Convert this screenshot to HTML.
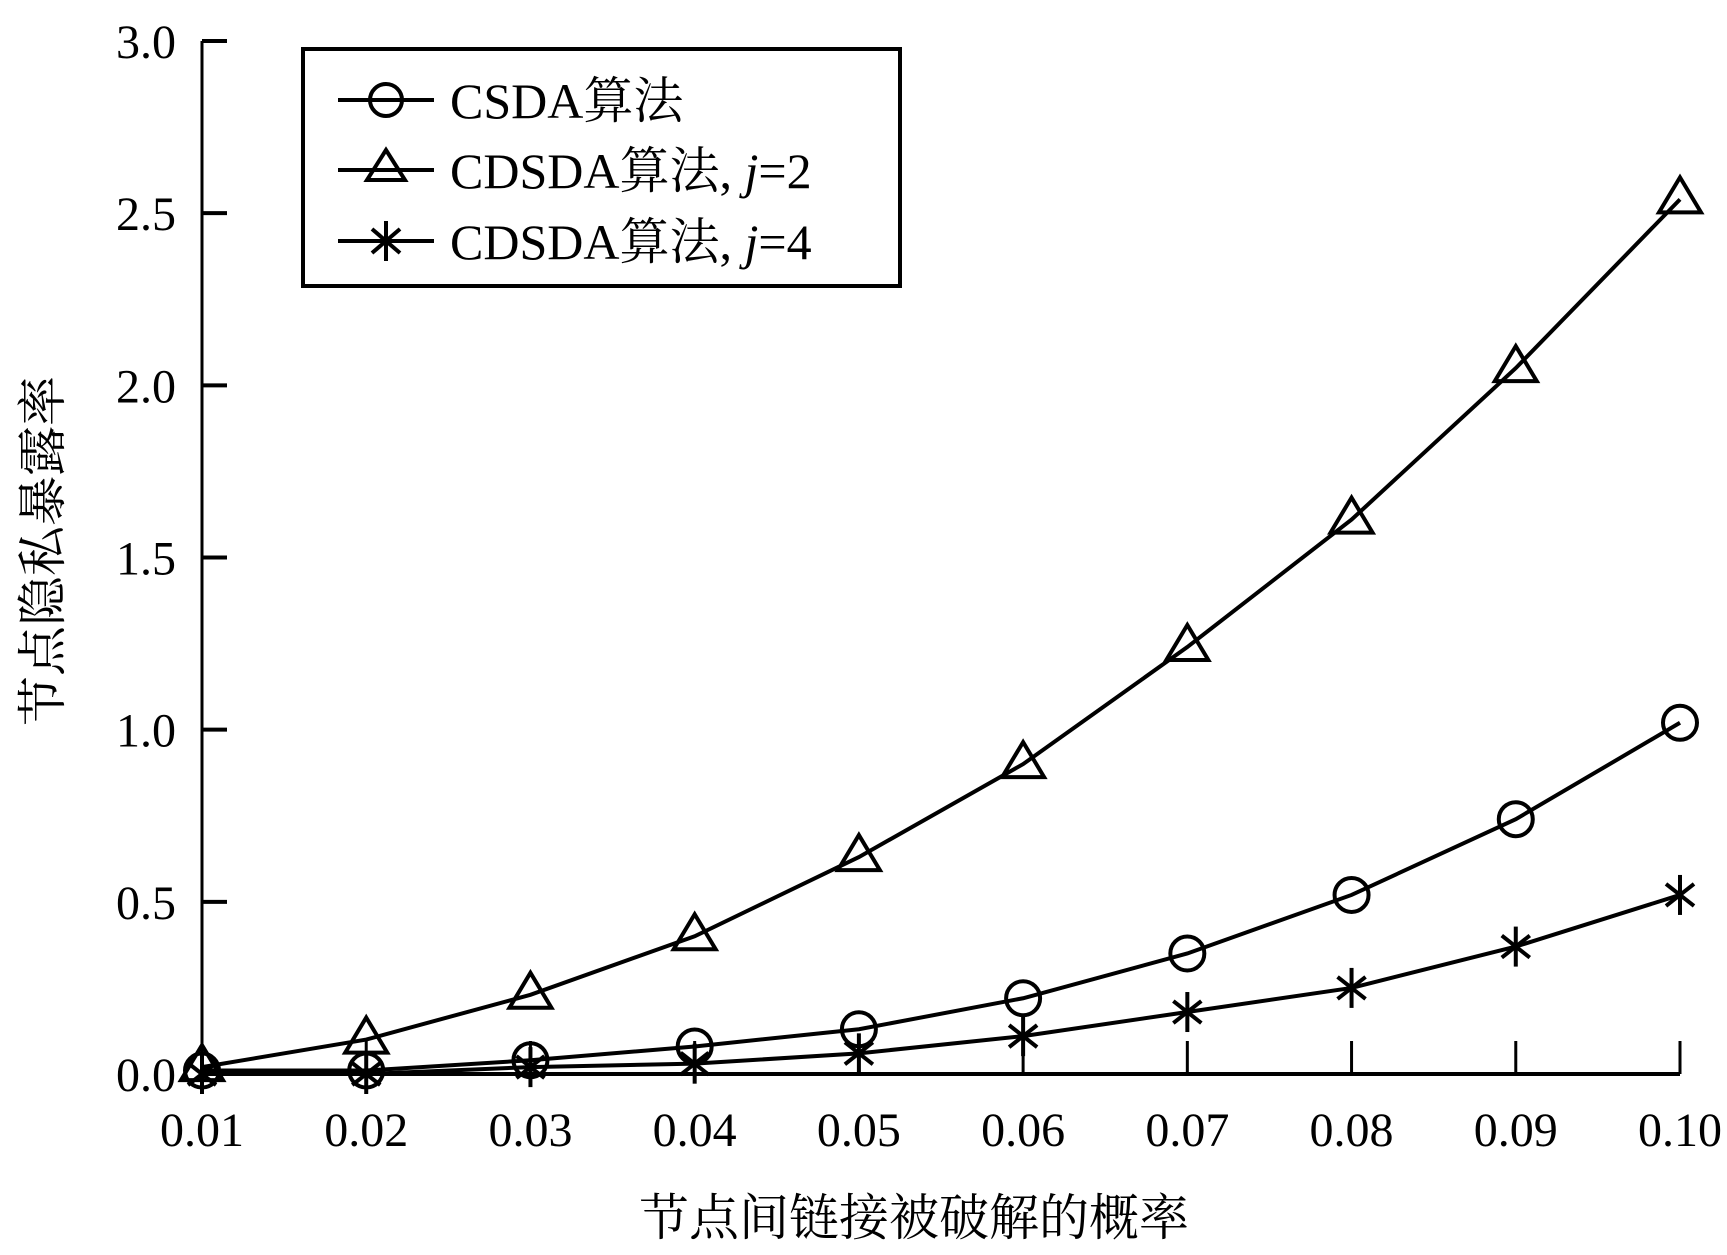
<!DOCTYPE html>
<html><head><meta charset="utf-8"><style>
html,body{margin:0;padding:0;background:#fff}
svg{display:block}
text{font-family:"Liberation Serif","Noto Serif CJK SC",serif;fill:#000}
</style></head><body>
<svg id="chart" width="1727" height="1255" viewBox="0 0 1727 1255" xmlns="http://www.w3.org/2000/svg">
<g id="axes"></g><g id="series"></g>
<g>
<rect x="303" y="49" width="597" height="237" fill="#fff" stroke="#000" stroke-width="4"/>
<g>
<line x1="338" y1="100" x2="434" y2="100" stroke="#000" stroke-width="4"/>
<circle cx="386" cy="100" r="16" fill="none" stroke="#000" stroke-width="4"/>
<text x="450" y="118" font-size="50">CSDA算法</text></g>
<g>
<line x1="338" y1="170" x2="434" y2="170" stroke="#000" stroke-width="4"/>
<polygon points="386,150 367,180 405,180" fill="none" stroke="#000" stroke-width="4"/>
<text x="450" y="188" font-size="50">CDSDA算法, <tspan font-style="italic">j</tspan>=2</text></g>
<g>
<line x1="338" y1="241" x2="434" y2="241" stroke="#000" stroke-width="4"/>
<g stroke="#000" stroke-width="4"><line x1="386" y1="221" x2="386" y2="261"/><line x1="372" y1="229" x2="400" y2="253"/><line x1="400" y1="229" x2="372" y2="253"/></g>
<text x="450" y="259" font-size="50">CDSDA算法, <tspan font-style="italic">j</tspan>=4</text></g>
</g>
<text x="914" y="1235" font-size="50" text-anchor="middle">节点间链接被破解的概率</text>
<text transform="translate(60,551) rotate(-90)" font-size="50" text-anchor="middle">节点隐私暴露率</text>
</svg>
<script>
const categories = [0.01,0.02,0.03,0.04,0.05,0.06,0.07,0.08,0.09,0.10];
const xTickLabels = ["0.01","0.02","0.03","0.04","0.05","0.06","0.07","0.08","0.09","0.10"];
const yTicks = [0,0.5,1.0,1.5,2.0,2.5,3.0];
const yTickLabels = ["0.0","0.5","1.0","1.5","2.0","2.5","3.0"];
const csda = [0.01,0.01,0.04,0.08,0.13,0.22,0.35,0.52,0.74,1.02];
const cdsdaJ2 = [0.02,0.10,0.23,0.40,0.63,0.90,1.24,1.61,2.05,2.54];
const cdsdaJ4 = [0.00,0.00,0.02,0.03,0.06,0.11,0.18,0.25,0.37,0.52];
const NS="http://www.w3.org/2000/svg";
const X0=202,X1=1680,Y0=1074,Y1=41;
function xs(i){return X0+(X1-X0)*i/(categories.length-1);}
function ys(v){return Y0-(Y0-Y1)*v/3;}
function mk(tag,attrs,parent){const e=document.createElementNS(NS,tag);for(const k in attrs)e.setAttribute(k,attrs[k]);parent.appendChild(e);return e;}
const axes=document.getElementById('axes'),ser=document.getElementById('series');
let a=mk('line',{x1:X0,y1:Y1,x2:X0,y2:Y0,stroke:'#000','stroke-width':3},axes);


a=mk('line',{x1:X0,y1:Y0,x2:X1,y2:Y0,stroke:'#000','stroke-width':4},axes);


yTicks.forEach((v,i)=>{
 const t=mk('line',{x1:X0,y1:ys(v),x2:X0+25,y2:ys(v),stroke:'#000','stroke-width':4},axes);
 
 
 const l=mk('text',{x:176,y:ys(v)+17,'font-size':48,'text-anchor':'end'},axes);l.textContent=yTickLabels[i];
 
 
});
categories.forEach((c,i)=>{
 const t=mk('line',{x1:xs(i),y1:Y0,x2:xs(i),y2:Y0-33,stroke:'#000','stroke-width':3},axes);
 
 
 const l=mk('text',{x:xs(i),y:1146,'font-size':48,'text-anchor':'middle'},axes);l.textContent=xTickLabels[i];
 
 
});
function drawSeries(vals,name,marker){
 const g=mk('g',{},ser);
 
 
 const p=mk('polyline',{points:vals.map((v,i)=>xs(i)+','+ys(v)).join(' '),fill:'none',stroke:'#000','stroke-width':4},g);
 
 
 vals.forEach((v,i)=>{
  const x=xs(i),y=ys(v);let m;
  if(marker==='circle'){m=mk('circle',{cx:x,cy:y,r:17,fill:'none',stroke:'#000','stroke-width':4},g);}
  else if(marker==='triangle'){m=mk('polygon',{points:`${x},${y-22} ${x-21},${y+13} ${x+21},${y+13}`,fill:'none',stroke:'#000','stroke-width':4},g);}
  else{m=mk('g',{stroke:'#000','stroke-width':4},g);
   mk('line',{x1:x,y1:y-20,x2:x,y2:y+20},m);mk('line',{x1:x-14,y1:y-11,x2:x+14,y2:y+11},m);mk('line',{x1:x+14,y1:y-11,x2:x-14,y2:y+11},m);}
  
  
 });
}
drawSeries(cdsdaJ2,'series-cdsda-j2','triangle');
drawSeries(csda,'series-csda','circle');
drawSeries(cdsdaJ4,'series-cdsda-j4','star');
</script>
</body></html>
